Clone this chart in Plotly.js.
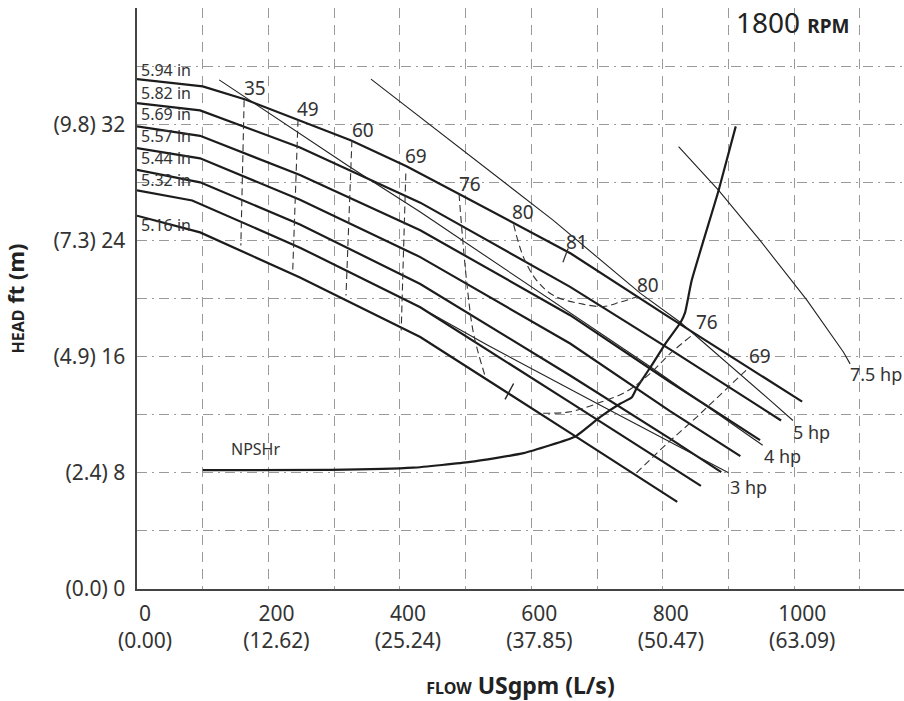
<!DOCTYPE html>
<html><head><meta charset="utf-8">
<script src="https://cdn.plot.ly/plotly-3.0.1.min.js"></script>
<style>html,body{margin:0;padding:0;background:#fff}#chart{width:904px;height:701px}</style>
</head><body><div id="chart"></div>
<script>
// ---- data: flow in USgpm, head in ft ----
const impellerNames = ['5.94 in','5.82 in','5.69 in','5.57 in','5.44 in','5.32 in','5.16 in'];
const q594 = [0, 100, 165, 250, 325, 410, 490, 660, 810, 1012];
const h594 = [35.1, 34.6, 33.7, 32.2, 30.9, 29.1, 27.2, 23.1, 18.7, 12.9];
const q582 = [0, 96, 248, 431, 659, 811, 980];
const h582 = [33.45, 32.95, 30.4, 26.6, 20.8, 16.5, 11.6];
const q569 = [0, 96, 248, 431, 659, 811, 948];
const h569 = [31.85, 31.2, 28.5, 24.7, 18.85, 14.25, 10.25];
const q557 = [0, 96, 248, 431, 659, 811, 918];
const h557 = [30.35, 29.65, 26.8, 22.85, 16.9, 12.25, 9.15];
const q544 = [0, 96, 248, 431, 659, 811, 889];
const h544 = [28.85, 28.0, 25.1, 21.0, 14.7, 10.35, 8.05];
const q532 = [0, 84, 248, 431, 659, 811, 858];
const h532 = [27.45, 26.75, 23.5, 19.4, 12.85, 8.45, 7.1];
const q516 = [0, 96, 248, 431, 659, 822];
const h516 = [25.7, 24.55, 21.45, 17.35, 10.75, 6.0];

const hpNames = ['3 hp','4 hp','5 hp','7.5 hp'];
const q3hp = [446, 533, 705, 900];
const h3hp = [19.0, 16.8, 12.65, 8.0];
const q4hp = [125, 324, 431, 669, 781, 952];
const h4hp = [35.05, 29.05, 25.95, 18.75, 15.3, 9.9];
const q5hp = [356, 496, 633, 766, 827, 963, 998];
const h5hp = [35.1, 30.2, 25.4, 20.35, 18.35, 13.0, 11.6];
const q75hp = [824, 885, 948, 1019, 1075, 1085];
const h75hp = [30.45, 27.45, 24.0, 19.9, 16.3, 15.5];

const qNPSH = [100, 294, 420, 507, 588, 667, 705, 735, 753, 761, 781, 804, 827, 834, 844, 885, 911];
const hNPSH = [8.18, 8.2, 8.35, 8.75, 9.35, 10.5, 11.85, 12.75, 13.2, 13.9, 15.25, 16.9, 18.35, 19.05, 21.25, 27.45, 31.85];

const effNames = ['35','49','60','69','76','80','81','80','76','69'];
const e35q = [163, 158],  e35h = [33.65, 23.65];
const e49q = [245, 237],  e49h = [32.3, 22.0];
const e60q = [327, 318],  e60h = [30.9, 20.2];
const e69q = [409, 402],  e69h = [28.6, 17.8];
const e76q = [490, 494, 502, 512, 530], e76h = [27.2, 24.9, 21.0, 17.6, 14.6];
const e80q = [573, 588, 608, 634, 674, 710, 735, 760], e80h = [25.1, 22.85, 21.25, 20.2, 19.65, 19.45, 19.75, 20.1];
const e81q = [648, 656], e81h = [22.5, 23.45];
const e76bq = [618, 659, 705, 745, 781, 811, 844], e76bh = [12.1, 12.2, 12.85, 13.6, 14.85, 16.2, 17.45];
const e69bq = [760, 806, 852, 897, 930], e69bh = [8.0, 10.0, 11.85, 13.8, 15.2];
const bepQ = [560, 573], bepH = [13.05, 14.15];

const flowTicks = [0,100,200,300,400,500,600,700,800,900,1000,1100];
const gpmLabels = {0:'0',200:'200',400:'400',600:'600',800:'800',1000:'1000'};
const lpsLabels = {0:'(0.00)',200:'(12.62)',400:'(25.24)',600:'(37.85)',800:'(50.47)',1000:'(63.09)'};
const headTicks = [0,4,8,12,16,20,24,28,32,36,40];
const headLabels = {0:'(0.0) 0',8:'(2.4) 8',16:'(4.9) 16',24:'(7.3) 24',32:'(9.8) 32'};

// ---- traces ----
const FONT = 'Noto Sans, sans-serif';
const TXT = '#333';
const traces = [];
const impQ = [q594,q582,q569,q557,q544,q532,q516];
const impH = [h594,h582,h569,h557,h544,h532,h516];
impQ.forEach((q,i)=>traces.push({x:q,y:impH[i],mode:'lines',name:impellerNames[i],
  line:{color:'#1c1c1c',width:2.2},hoverinfo:'name'}));
[[q3hp,h3hp],[q4hp,h4hp],[q5hp,h5hp],[q75hp,h75hp]].forEach((p,i)=>traces.push({x:p[0],y:p[1],mode:'lines',
  name:hpNames[i],line:{color:'#222',width:1.1},hoverinfo:'name'}));
traces.push({x:qNPSH,y:hNPSH,mode:'lines',name:'NPSHr',line:{color:'#1c1c1c',width:2.2,shape:'spline',smoothing:0.4}});
const effSets = [[e35q,e35h,'linear'],[e49q,e49h,'linear'],[e60q,e60h,'linear'],[e69q,e69h,'linear'],
  [e76q,e76h,'spline'],[e80q,e80h,'spline'],[e76bq,e76bh,'spline'],[e69bq,e69bh,'linear']];
effSets.forEach(s=>traces.push({x:s[0],y:s[1],mode:'lines',line:{color:'#333',width:1.1,dash:'7px,4px',shape:s[2]},hoverinfo:'skip'}));
traces.push({x:e81q,y:e81h,mode:'lines',line:{color:'#333',width:1.3},hoverinfo:'skip'});
traces.push({x:bepQ,y:bepH,mode:'lines',line:{color:'#222',width:1.4},hoverinfo:'skip'});

// ---- annotations ----
const ann = [];
const impLabelY = [35.7, 34.18, 32.67, 31.16, 29.64, 28.13, 25.04];
impellerNames.forEach((t,i)=>ann.push({x:4,y:impLabelY[i],text:t,xanchor:'left',yanchor:'middle',showarrow:false,
  font:{family:FONT,size:16,color:TXT},borderpad:0}));
const effPos = [[180,34.46],[260,33.08],[344,31.57],[425,29.78],[507,27.86],[588,25.93],[670,23.87],[778,20.91],[868,18.36],[948,16.03]];
effNames.forEach((t,i)=>ann.push({x:effPos[i][0],y:effPos[i][1],text:t,xanchor:'center',yanchor:'middle',showarrow:false,font:{family:FONT,size:19,color:TXT}}));
const hpPos = [[930,7.02],[982,9.15],[1027,10.8],[1125,14.79]];
hpNames.forEach((t,i)=>ann.push({x:hpPos[i][0],y:hpPos[i][1],text:t,xanchor:'center',yanchor:'middle',showarrow:false,font:{family:FONT,size:18,color:TXT}}));
ann.push({x:180,y:9.63,text:'NPSHr',xanchor:'center',yanchor:'middle',showarrow:false,font:{family:FONT,size:16,color:TXT}});
ann.push({xref:'paper',yref:'paper',x:0.778,y:0.976,xanchor:'left',yanchor:'middle',showarrow:false,
  text:'<span style="font-size:28px">1800</span> <b><span style="font-size:19px">RPM</span></b>',font:{family:FONT,size:28,color:'#222'}});

const gridCol = '#9a9a9a';
const layout = {
  width:904,height:701,
  margin:{l:137,r:0,t:8,b:112},
  paper_bgcolor:'#fff',plot_bgcolor:'#fff',
  showlegend:false,
  font:{family:FONT,color:TXT,size:21},
  xaxis:{range:[0,1167],tickmode:'array',tickvals:flowTicks,
    ticktext:flowTicks.map(v=>gpmLabels[v]!==undefined?gpmLabels[v]+'<br>'+lpsLabels[v]:''),
    ticks:'',showline:true,linecolor:'#444',linewidth:1.6,zeroline:false,
    showgrid:true,gridcolor:gridCol,gridwidth:1,griddash:'10px,7px',
    ticklabelshift:8,ticklabelstandoff:5,tickfont:{family:FONT,size:21,color:TXT},
    title:{text:'<b><span style="font-size:16px">FLOW</span> USgpm (L/s)</b>',font:{family:FONT,size:23,color:'#222'},standoff:26}},
  yaxis:{range:[0,40],tickmode:'array',tickvals:headTicks,
    ticktext:headTicks.map(v=>headLabels[v]!==undefined?headLabels[v]:''),
    ticks:'',showline:true,linecolor:'#444',linewidth:1.6,zeroline:false,
    showgrid:true,gridcolor:gridCol,gridwidth:1,griddash:'10px,5px,2px,5px',
    ticklabelstandoff:6,tickfont:{family:FONT,size:21,color:TXT},
    title:{text:'<b><span style="font-size:16px">HEAD</span> ft (m)</b>',font:{family:FONT,size:22,color:'#222'},standoff:24}},
  annotations:ann
};
Plotly.newPlot('chart',traces,layout,{displayModeBar:false,staticPlot:true});
</script></body></html>
